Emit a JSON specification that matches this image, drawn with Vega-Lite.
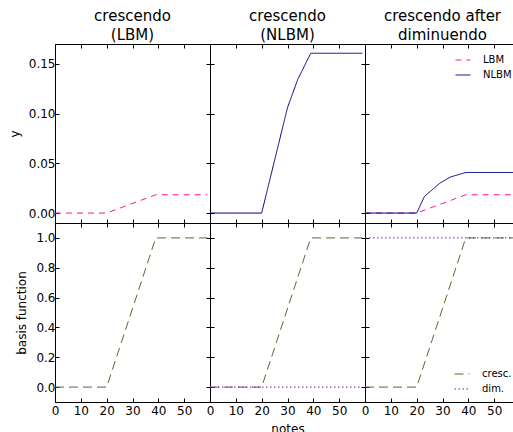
{
  "$schema": "https://vega.github.io/schema/vega-lite/v6.json",
  "padding": {"left": 8, "top": 8, "right": -7, "bottom": -2},
  "config": {
    "view": {"stroke": null},
    "font": "DejaVu Sans",
    "axis": {
      "domainColor": "black", "domainWidth": 1,
      "tickColor": "black", "tickWidth": 1, "tickSize": -4,
      "grid": false,
      "labelFont": "DejaVu Sans", "labelFontSize": 12, "labelColor": "black",
      "labelFlush": false, "labelOverlap": false, "labelPadding": 4,
      "titleFont": "DejaVu Sans", "titleFontSize": 12, "titleFontWeight": "normal",
      "titleColor": "black", "titlePadding": 7
    },
    "axisBottom": {"labelPadding": 7},
    "legend": {
      "title": null, "labelFont": "DejaVu Sans", "labelFontSize": 10, "labelColor": "black",
      "symbolType": "stroke", "symbolSize": 225, "symbolStrokeWidth": 1,
      "labelOffset": 12, "rowPadding": 2, "padding": 0, "offset": 8
    },
    "title": {"font": "DejaVu Sans", "fontSize": 15, "fontWeight": "normal", "color": "black", "lineHeight": 19, "offset": 1}
  },
  "datasets": {
    "p1": [
      {"notes": 0, "y": 0, "s": "LBM"}, {"notes": 20, "y": 0, "s": "LBM"},
      {"notes": 39, "y": 0.0184, "s": "LBM"}, {"notes": 59, "y": 0.0184, "s": "LBM"}
    ],
    "p2": [
      {"notes": 0, "y": 0, "s": "NLBM"}, {"notes": 20, "y": 0, "s": "NLBM"},
      {"notes": 30, "y": 0.106, "s": "NLBM"}, {"notes": 34, "y": 0.1346, "s": "NLBM"},
      {"notes": 39, "y": 0.1607, "s": "NLBM"}, {"notes": 59, "y": 0.1607, "s": "NLBM"}
    ],
    "p3": [
      {"notes": 0, "y": 0, "s": "LBM"}, {"notes": 20, "y": 0, "s": "LBM"},
      {"notes": 39, "y": 0.0184, "s": "LBM"}, {"notes": 59, "y": 0.0184, "s": "LBM"},
      {"notes": 0, "y": 0, "s": "NLBM"}, {"notes": 20, "y": 0, "s": "NLBM"},
      {"notes": 23, "y": 0.0167, "s": "NLBM"}, {"notes": 29, "y": 0.0301, "s": "NLBM"},
      {"notes": 33, "y": 0.0362, "s": "NLBM"}, {"notes": 39, "y": 0.0408, "s": "NLBM"},
      {"notes": 59, "y": 0.0408, "s": "NLBM"}
    ],
    "p4": [
      {"notes": 0, "v": 0, "s": "cresc."}, {"notes": 20, "v": 0, "s": "cresc."},
      {"notes": 39, "v": 1, "s": "cresc."}, {"notes": 59, "v": 1, "s": "cresc."}
    ],
    "p5": [
      {"notes": 0, "v": 0, "s": "cresc."}, {"notes": 20, "v": 0, "s": "cresc."},
      {"notes": 39, "v": 1, "s": "cresc."}, {"notes": 59, "v": 1, "s": "cresc."},
      {"notes": 0, "v": 0, "s": "dim."}, {"notes": 59, "v": 0, "s": "dim."}
    ],
    "p6": [
      {"notes": 0, "v": 0, "s": "cresc."}, {"notes": 20, "v": 0, "s": "cresc."},
      {"notes": 39, "v": 1, "s": "cresc."}, {"notes": 59, "v": 1, "s": "cresc."},
      {"notes": 0, "v": 1, "s": "dim."}, {"notes": 59, "v": 1, "s": "dim."}
    ]
  },
  "columns": 3,
  "spacing": 0,
  "bounds": "flush",
  "resolve": {"scale": {"color": "independent", "strokeDash": "independent"}},
  "concat": [
    {
      "width": 155, "height": 179,
      "title": {"text": ["crescendo", "(LBM)"]},
      "data": {"name": "p1"},
      "resolve": {"axis": {"x": "independent", "y": "independent"}},
      "layer": [
        {
          "mark": {"type": "line", "strokeWidth": 1, "clip": true},
          "encoding": {
            "x": {"field": "notes", "type": "quantitative", "scale": {"domain": [0, 60]},
                  "axis": {"orient": "bottom", "values": [0, 10, 20, 30, 40, 50], "labels": false, "title": null}},
            "y": {"field": "y", "type": "quantitative", "scale": {"domain": [-0.01, 0.17]},
                  "axis": {"orient": "left", "values": [0, 0.05, 0.1, 0.15], "format": ".2f", "title": "y"}},
            "color": {"field": "s", "type": "nominal", "scale": {"domain": ["LBM", "NLBM"], "range": ["#ff1493", "#000080"]}, "legend": null},
            "strokeDash": {"field": "s", "type": "nominal", "scale": {"domain": ["LBM", "NLBM"], "range": [[6, 5], [1, 0]]}, "legend": null}
          }
        },
        {
          "mark": {"type": "line", "opacity": 0},
          "encoding": {
            "x": {"field": "notes", "type": "quantitative", "scale": {"domain": [0, 60]},
                  "axis": {"orient": "top", "values": [0, 10, 20, 30, 40, 50], "labels": false, "title": null}},
            "y": {"field": "y", "type": "quantitative", "scale": {"domain": [-0.01, 0.17]},
                  "axis": {"orient": "right", "values": [0, 0.05, 0.1, 0.15], "labels": false, "title": null}},
            "detail": {"field": "s"}
          }
        }
      ]
    },
    {
      "width": 155, "height": 179,
      "title": {"text": ["crescendo", "(NLBM)"]},
      "data": {"name": "p2"},
      "resolve": {"axis": {"x": "independent", "y": "independent"}},
      "layer": [
        {
          "mark": {"type": "line", "strokeWidth": 1, "clip": true},
          "encoding": {
            "x": {"field": "notes", "type": "quantitative", "scale": {"domain": [0, 60]},
                  "axis": {"orient": "bottom", "values": [0, 10, 20, 30, 40, 50], "labels": false, "title": null}},
            "y": {"field": "y", "type": "quantitative", "scale": {"domain": [-0.01, 0.17]},
                  "axis": {"orient": "left", "values": [0, 0.05, 0.1, 0.15], "labels": false, "title": null}},
            "color": {"field": "s", "type": "nominal", "scale": {"domain": ["LBM", "NLBM"], "range": ["#ff1493", "#000080"]}, "legend": null},
            "strokeDash": {"field": "s", "type": "nominal", "scale": {"domain": ["LBM", "NLBM"], "range": [[6, 5], [1, 0]]}, "legend": null}
          }
        },
        {
          "mark": {"type": "line", "opacity": 0},
          "encoding": {
            "x": {"field": "notes", "type": "quantitative", "scale": {"domain": [0, 60]},
                  "axis": {"orient": "top", "values": [0, 10, 20, 30, 40, 50], "labels": false, "title": null}},
            "y": {"field": "y", "type": "quantitative", "scale": {"domain": [-0.01, 0.17]},
                  "axis": {"orient": "right", "values": [0, 0.05, 0.1, 0.15], "labels": false, "title": null}},
            "detail": {"field": "s"}
          }
        }
      ]
    },
    {
      "width": 155, "height": 179,
      "title": {"text": ["crescendo after", "diminuendo"]},
      "data": {"name": "p3"},
      "resolve": {"axis": {"x": "independent", "y": "independent"}},
      "layer": [
        {
          "mark": {"type": "line", "strokeWidth": 1, "clip": true},
          "encoding": {
            "x": {"field": "notes", "type": "quantitative", "scale": {"domain": [0, 60]},
                  "axis": {"orient": "bottom", "values": [0, 10, 20, 30, 40, 50], "labels": false, "title": null}},
            "y": {"field": "y", "type": "quantitative", "scale": {"domain": [-0.01, 0.17]},
                  "axis": {"orient": "left", "values": [0, 0.05, 0.1, 0.15], "labels": false, "title": null}},
            "color": {"field": "s", "type": "nominal", "scale": {"domain": ["LBM", "NLBM"], "range": ["#ff1493", "#000080"]},
                      "legend": {"orient": "top-right", "offset": 8}},
            "strokeDash": {"field": "s", "type": "nominal", "scale": {"domain": ["LBM", "NLBM"], "range": [[6, 5], [1, 0]]}}
          }
        },
        {
          "mark": {"type": "line", "opacity": 0},
          "encoding": {
            "x": {"field": "notes", "type": "quantitative", "scale": {"domain": [0, 60]},
                  "axis": {"orient": "top", "values": [0, 10, 20, 30, 40, 50], "labels": false, "title": null}},
            "y": {"field": "y", "type": "quantitative", "scale": {"domain": [-0.01, 0.17]},
                  "axis": {"orient": "right", "values": [0, 0.05, 0.1, 0.15], "labels": false, "title": null}},
            "detail": {"field": "s"}
          }
        }
      ]
    },
    {
      "width": 155, "height": 179,
      "data": {"name": "p4"},
      "resolve": {"axis": {"x": "independent", "y": "independent"}},
      "layer": [
        {
          "mark": {"type": "line", "strokeWidth": 1, "clip": true},
          "encoding": {
            "x": {"field": "notes", "type": "quantitative", "scale": {"domain": [0, 60]},
                  "axis": {"orient": "bottom", "values": [0, 10, 20, 30, 40, 50], "format": "d", "title": null}},
            "y": {"field": "v", "type": "quantitative", "scale": {"domain": [-0.1, 1.1]},
                  "axis": {"orient": "left", "values": [0, 0.2, 0.4, 0.6, 0.8, 1.0], "format": ".1f", "title": "basis function"}},
            "color": {"field": "s", "type": "nominal", "scale": {"domain": ["cresc.", "dim."], "range": ["#556b2f", "#9400d3"]}, "legend": null},
            "strokeDash": {"field": "s", "type": "nominal", "scale": {"domain": ["cresc.", "dim."], "range": [[9, 5], [1.5, 2.5]]}, "legend": null}
          }
        },
        {
          "mark": {"type": "line", "opacity": 0},
          "encoding": {
            "x": {"field": "notes", "type": "quantitative", "scale": {"domain": [0, 60]},
                  "axis": {"orient": "top", "values": [0, 10, 20, 30, 40, 50], "labels": false, "title": null}},
            "y": {"field": "v", "type": "quantitative", "scale": {"domain": [-0.1, 1.1]},
                  "axis": {"orient": "right", "values": [0, 0.2, 0.4, 0.6, 0.8, 1.0], "labels": false, "title": null}},
            "detail": {"field": "s"}
          }
        }
      ]
    },
    {
      "width": 155, "height": 179,
      "data": {"name": "p5"},
      "resolve": {"axis": {"x": "independent", "y": "independent"}},
      "layer": [
        {
          "mark": {"type": "line", "strokeWidth": 1, "clip": true},
          "encoding": {
            "x": {"field": "notes", "type": "quantitative", "scale": {"domain": [0, 60]},
                  "axis": {"orient": "bottom", "values": [0, 10, 20, 30, 40, 50], "format": "d", "title": "notes"}},
            "y": {"field": "v", "type": "quantitative", "scale": {"domain": [-0.1, 1.1]},
                  "axis": {"orient": "left", "values": [0, 0.2, 0.4, 0.6, 0.8, 1.0], "labels": false, "title": null}},
            "color": {"field": "s", "type": "nominal", "scale": {"domain": ["cresc.", "dim."], "range": ["#556b2f", "#9400d3"]}, "legend": null},
            "strokeDash": {"field": "s", "type": "nominal", "scale": {"domain": ["cresc.", "dim."], "range": [[9, 5], [1.5, 2.5]]}, "legend": null}
          }
        },
        {
          "mark": {"type": "line", "opacity": 0},
          "encoding": {
            "x": {"field": "notes", "type": "quantitative", "scale": {"domain": [0, 60]},
                  "axis": {"orient": "top", "values": [0, 10, 20, 30, 40, 50], "labels": false, "title": null}},
            "y": {"field": "v", "type": "quantitative", "scale": {"domain": [-0.1, 1.1]},
                  "axis": {"orient": "right", "values": [0, 0.2, 0.4, 0.6, 0.8, 1.0], "labels": false, "title": null}},
            "detail": {"field": "s"}
          }
        }
      ]
    },
    {
      "width": 155, "height": 179,
      "data": {"name": "p6"},
      "resolve": {"axis": {"x": "independent", "y": "independent"}},
      "layer": [
        {
          "mark": {"type": "line", "strokeWidth": 1, "clip": true},
          "encoding": {
            "x": {"field": "notes", "type": "quantitative", "scale": {"domain": [0, 60]},
                  "axis": {"orient": "bottom", "values": [0, 10, 20, 30, 40, 50], "format": "d", "title": null}},
            "y": {"field": "v", "type": "quantitative", "scale": {"domain": [-0.1, 1.1]},
                  "axis": {"orient": "left", "values": [0, 0.2, 0.4, 0.6, 0.8, 1.0], "labels": false, "title": null}},
            "color": {"field": "s", "type": "nominal", "scale": {"domain": ["cresc.", "dim."], "range": ["#556b2f", "#9400d3"]},
                      "legend": {"orient": "bottom-right", "offset": 8}},
            "strokeDash": {"field": "s", "type": "nominal", "scale": {"domain": ["cresc.", "dim."], "range": [[9, 5], [1.5, 2.5]]}}
          }
        },
        {
          "mark": {"type": "line", "opacity": 0},
          "encoding": {
            "x": {"field": "notes", "type": "quantitative", "scale": {"domain": [0, 60]},
                  "axis": {"orient": "top", "values": [0, 10, 20, 30, 40, 50], "labels": false, "title": null}},
            "y": {"field": "v", "type": "quantitative", "scale": {"domain": [-0.1, 1.1]},
                  "axis": {"orient": "right", "values": [0, 0.2, 0.4, 0.6, 0.8, 1.0], "labels": false, "title": null}},
            "detail": {"field": "s"}
          }
        }
      ]
    }
  ]
}
